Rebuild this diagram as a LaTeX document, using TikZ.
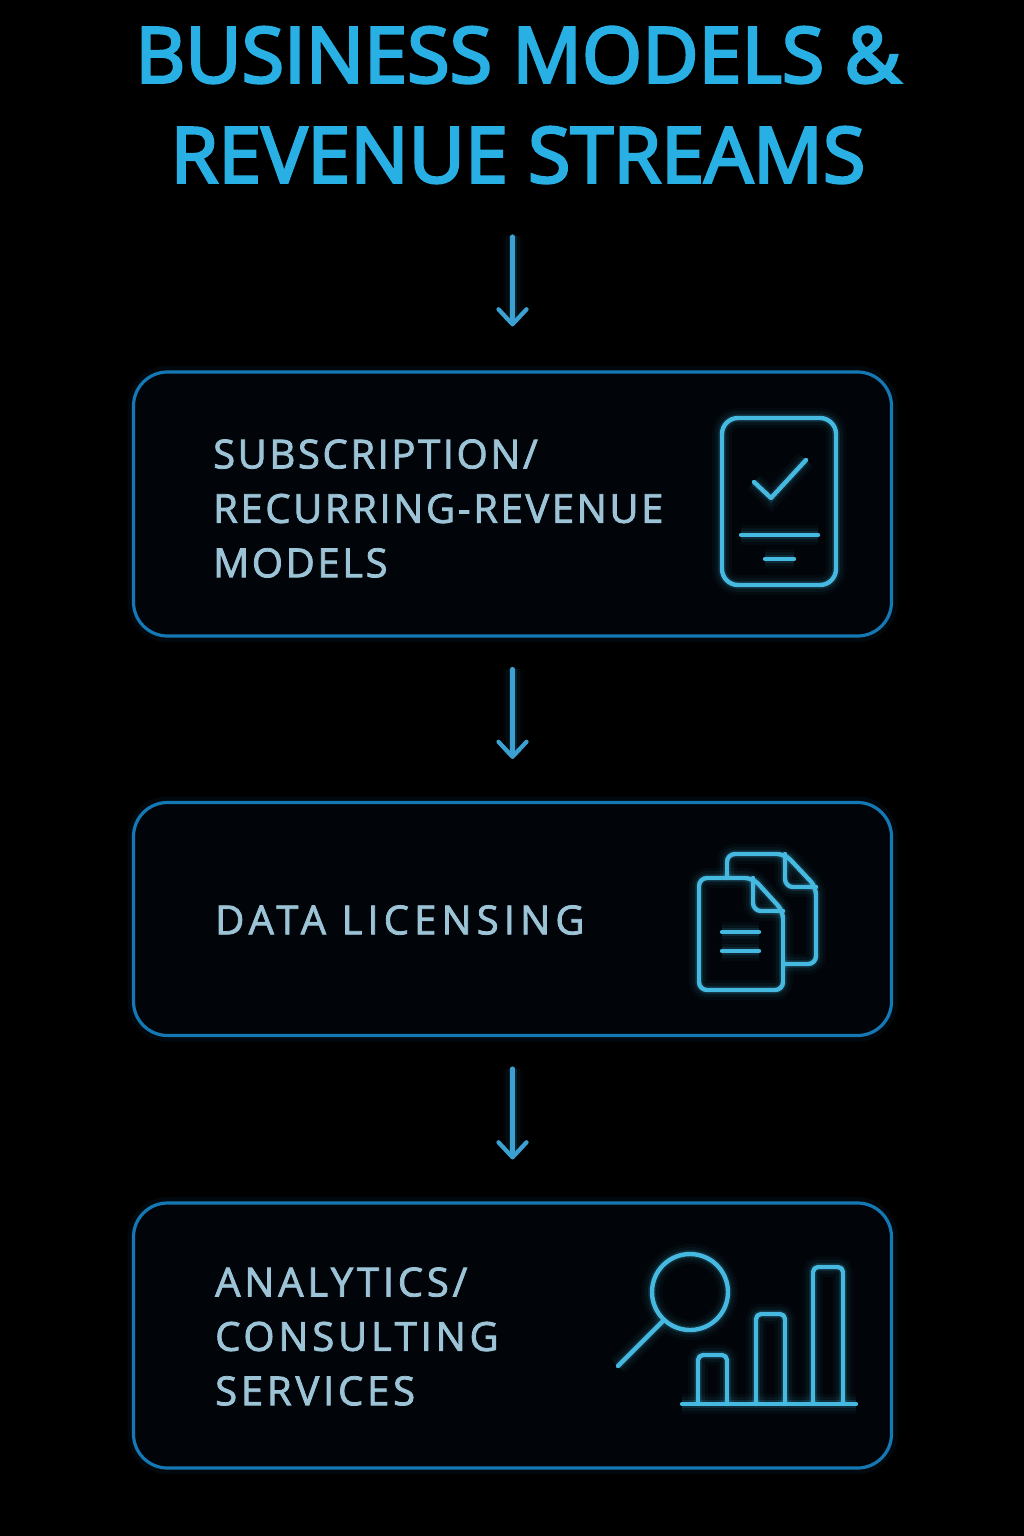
\documentclass[tikz,border=0pt]{standalone}
\usepackage{fontspec}
\usepackage{tikz}
\usetikzlibrary{arrows.meta}
\setmainfont{Open Sans}
\newfontfamily\titlefont[LetterSpace=0.3, FakeBold=3.5]{Open Sans}
\newfontfamily\labelfont[LetterSpace=6.5, FakeBold=2]{Open Sans}
\newfontfamily\datafont[LetterSpace=12.8, FakeBold=2]{Open Sans}
\newfontfamily\servicefont[LetterSpace=9.5, FakeBold=2]{Open Sans}
\definecolor{titleblue}{HTML}{28B0E4}
\definecolor{edgeblue}{HTML}{1478B4}
\definecolor{iconblue}{HTML}{46B9E0}
\definecolor{arrowblue}{HTML}{3CA0D2}
\definecolor{labelgrey}{HTML}{9CC4D6}
\definecolor{boxfill}{HTML}{01050A}

\begin{document}
\begin{tikzpicture}[x=1pt, y=-1pt]
  \tikzset{
    halo/.style={preaction={draw=#1, line width=20pt, opacity=.03},
                 preaction={draw=#1, line width=14pt, opacity=.06},
                 preaction={draw=#1, line width=8pt, opacity=.14}},
    card/.style={draw=edgeblue, line width=3.2pt, fill=boxfill, rounded corners=34pt,
                 minimum width=758pt, preaction={draw=edgeblue, line width=12pt, opacity=.08}},
    flow/.style={draw=arrowblue, line width=4.2pt, line cap=round, line join=round,
                 -{Straight Barb[length=15pt, width=28pt, line width=4.2pt, round]},
                 halo=arrowblue},
    icon/.style={draw=iconblue, line width=4.4pt, line cap=round, line join=round, halo=iconblue},
    boxtext/.style={text=labelgrey, font=\labelfont\fontsize{40}{54.4}\selectfont, align=left, anchor=west, inner sep=0pt},
  }
  \fill[black] (0, 0) rectangle (1024, 1536);
  \useasboundingbox (0, 0) rectangle (1024, 1536);

  \node[text=titleblue, font=\titlefont\fontsize{77}{100}\selectfont, align=center, inner sep=0pt]
    (title) at (518, 105) {BUSINESS MODELS \&\\REVENUE STREAMS};

  \node[card, minimum height=264pt] (subs) at (512.5, 504) {};
  \node[card, minimum height=233pt] (data) at (512.5, 919) {};
  \node[card, minimum height=265pt] (analytics) at (512.5, 1335.5) {};

  \node[boxtext] (subslabel) at (213, 508.5) {SUBSCRIPTION/\\RECURRING-REVENUE\\MODELS};
  \node[boxtext, font=\datafont\fontsize{40}{54.4}\selectfont] (datalabel) at (215, 920) {DATA LICENSING};
  \node[boxtext, font=\servicefont\fontsize{40}{54.4}\selectfont] (analyticslabel) at (215, 1336.5) {ANALYTICS/\\CONSULTING\\SERVICES};

  \draw[flow, shorten <=53pt, shorten >=44pt] (title.south -| subs.north) -- (subs.north);
  \draw[flow, shorten <=33pt, shorten >=42pt] (subs) ++(0, 132) -- (data.north);
  \draw[flow, shorten <=33pt, shorten >=42pt] (data) ++(0, 116.5) -- (analytics.north);

  % phone
  \draw[icon, rounded corners=16pt] (722, 418) rectangle (836, 585);
  \draw[icon] (754, 482) -- (771, 498) -- (806, 460);
  \draw[icon] (741, 535) -- (818, 535);
  \draw[icon] (765, 559) -- (794, 559);

  % papers
  \draw[icon, rounded corners=8pt] (727, 878) -- (727, 854) -- (785, 854) -- (816, 887) -- (816, 964) -- (784, 964);
  \draw[icon, rounded corners=8pt] (785, 854) -- (785, 887) -- (816, 887);
  \draw[icon, rounded corners=8pt] (699, 878) -- (753, 878) -- (783, 911) -- (783, 990) -- (699, 990) -- cycle;
  \draw[icon, rounded corners=8pt] (753, 878) -- (753, 911) -- (783, 911);
  \draw[icon] (722, 932) -- (759, 932);
  \draw[icon] (722, 951) -- (759, 951);

  % lens and bars
  \draw[icon] (690, 1292) circle (38pt);
  \draw[icon] (662, 1322) -- (618, 1366);
  \draw[icon, rounded corners=5pt] (698, 1404) -- (698, 1355) -- (727, 1355) -- (727, 1404);
  \draw[icon, rounded corners=5pt] (756, 1404) -- (756, 1314) -- (785, 1314) -- (785, 1404);
  \draw[icon, rounded corners=5pt] (813, 1404) -- (813, 1267) -- (843, 1267) -- (843, 1404);
  \draw[icon] (682, 1404) -- (856, 1404);
\end{tikzpicture}
\end{document}
